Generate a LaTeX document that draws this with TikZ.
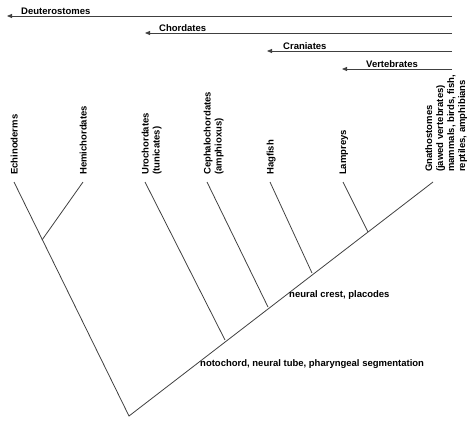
\documentclass[tikz,border=0pt]{standalone}
\usepackage{fontspec}
\setmainfont{Liberation Sans}
\usetikzlibrary{arrows.meta}

\begin{document}
\begin{tikzpicture}[x=1pt, y=-1pt,
    br/.style={draw=black!75, line width=0.8pt},
    arr/.style={draw=black!75, line width=0.8pt, -{Triangle[length=5pt, width=4pt]}},
    grp/.style={font=\fontsize{9.5}{11}\selectfont\bfseries, anchor=base west, inner sep=0pt},
    tax/.style={font=\fontsize{9.5}{11}\selectfont\bfseries, rotate=90, anchor=north west, align=left, inner sep=0pt},
    trait/.style={font=\fontsize{9.5}{11}\selectfont\bfseries, anchor=base west, inner sep=0pt}
]
\useasboundingbox (0,0) rectangle (471,421);

% groups along the top
\coordinate (deutR) at (452,16);  \coordinate (deutL) at (7,16);
\coordinate (chorR) at (452,33);  \coordinate (chorL) at (145,33);
\coordinate (cranR) at (452,51);  \coordinate (cranL) at (267,51);
\coordinate (vertR) at (452,69);  \coordinate (vertL) at (342,69);
\draw[arr] (deutR) -- (deutL);
\draw[arr] (chorR) -- (chorL);
\draw[arr] (cranR) -- (cranL);
\draw[arr] (vertR) -- (vertL);
\node[grp] (deut) at (21,14.5) {Deuterostomes};
\node[grp] (chor) at (159,31.5) {Chordates};
\node[grp] (cran) at (283,49.5) {Craniates};
\node[grp] (vert) at (366,67.5) {Vertebrates};

% tree
\coordinate (root) at (129,416);
\coordinate (echi) at (14,182);
\coordinate (hemi) at (83,182);
\coordinate (uro)  at (145,182);
\coordinate (ceph) at (207,182);
\coordinate (hag)  at (270,182);
\coordinate (lam)  at (343,182);
\coordinate (gna)  at (433,182);
\coordinate (jhemi) at (42,240);
\coordinate (juro)  at (225,340);
\coordinate (jceph) at (268,307);
\coordinate (jhag)  at (312,273);
\coordinate (jlam)  at (368,232);

\draw[br] (echi) -- (root) -- (gna);
\draw[br] (hemi) -- (jhemi);
\draw[br] (uro) -- (juro);
\draw[br] (ceph) -- (jceph);
\draw[br] (hag) -- (jhag);
\draw[br] (lam) -- (jlam);

% taxa
\node[tax] (techi) at (10.5,175) {Echinoderms};
\node[tax] (themi) at (79.5,175) {Hemichordates};
\node[tax] (turo)  at (141.5,175) {Urochordates\\(tunicates)};
\node[tax] (tceph) at (203.5,175) {Cephalochordates\\(amphioxus)};
\node[tax] (thag)  at (266.5,175) {Hagfish};
\node[tax] (tlam)  at (339.5,175) {Lampreys};
\node[tax] (tgna)  at (425,172) {Gnathostomes\\(jawed vertebrates)\\mammals, birds, fish,\\reptiles, amphibians};

% characters
\node[trait] (crest) at (289,297) {neural crest, placodes};
\node[trait] (noto)  at (200,366) {notochord, neural tube, pharyngeal segmentation};
\end{tikzpicture}
\end{document}
